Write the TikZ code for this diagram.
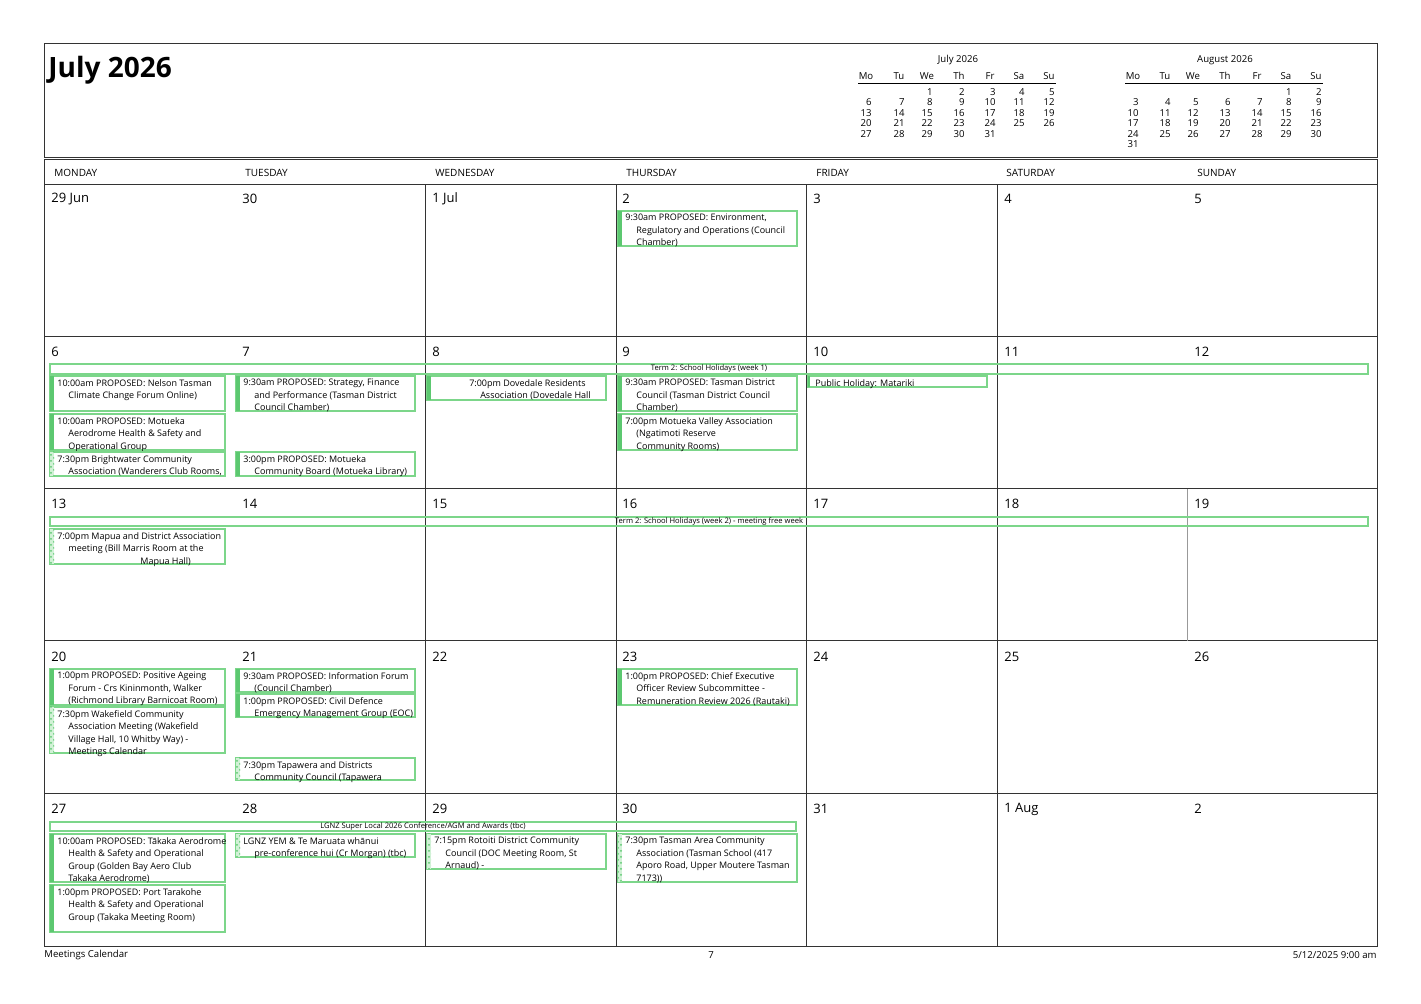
\documentclass[tikz,border=0pt]{standalone}
\usepackage{fontspec}
\setmainfont{Open Sans}
\usetikzlibrary{patterns}
\definecolor{evg}{HTML}{7CD68A}
\definecolor{evbar}{HTML}{5CC870}
\definecolor{gridc}{HTML}{333333}
\newcommand\nl{\\\hspace*{5.5pt}}
\tikzset{
  evbox/.style={draw=evg,line width=0.55pt},
  evtext/.style={font=\fontsize{4.5}{6.2}\selectfont,align=left,inner sep=1pt,anchor=north west},
  grid/.style={draw=gridc,line width=0.5pt},
  dnum/.style={font=\fontsize{6.5}{7}\selectfont,anchor=west,inner sep=0pt},
  dhead/.style={font=\fontsize{5}{6}\selectfont,anchor=west,inner sep=0pt},
  mini/.style={font=\fontsize{4.8}{5}\selectfont,inner sep=0pt},
  ban/.style={font=\fontsize{3.8}{4}\selectfont,inner sep=0pt},
}
\newcommand\ev[6]{%
  \draw[evbox] (#2,#3) rectangle ++(#4,#5);
  \fill[evbar] (#2,#3) rectangle ++(4,#5);
  \node[evtext] (#1) at (#2+5,#3+1) {#6};}
\newcommand\evh[6]{%
  \draw[evbox] (#2,#3) rectangle ++(#4,#5);
  \fill[evg!35] (#2,#3) rectangle ++(4,#5);
  \fill[pattern=crosshatch dots,pattern color=evbar] (#2,#3) rectangle ++(4,#5);
  \node[evtext] (#1) at (#2+5,#3+1) {#6};}
\newcommand\banner[6]{%
  \draw[evbox] (#2,#3) rectangle (#4,#5);
  \node[ban] (#1) at ({(#2+#4)/2},{(#3+#5)/2}) {#6};}
\begin{document}
\begin{tikzpicture}[x=0.5pt,y=-0.5pt]
\useasboundingbox (0,0) rectangle (1421,1004);
\fill[white] (0,0) rectangle (1421,1004);
% header box
\draw[grid] (44,44) rectangle (1377,158);
\node[anchor=west,inner sep=0pt,font=\bfseries\fontsize{14}{16}\selectfont] (title) at (48,70) {July 2026};
% mini calendars
\node[mini] (jt) at (958,60) {July 2026};
\node[mini] (at) at (1225,60) {August 2026};
\draw[line width=0.5pt] (858,84) -- (1056,84);
\draw[line width=0.5pt] (1125,84) -- (1323,84);
\foreach \d/\x in {Mo/866,Tu/899,We/927,Th/959,Fr/990,Sa/1019,Su/1049}
  \node[mini] (jh\d) at (\x,76) {\d};
\foreach \d/\x in {Mo/1133,Tu/1165,We/1193,Th/1225,Fr/1257,Sa/1286,Su/1316}
  \node[mini] (ah\d) at (\x,76) {\d};
\foreach \n in {1,...,31}{
  \pgfmathtruncatemacro\c{mod(\n+1,7)}
  \pgfmathtruncatemacro\r{div(\n+1,7)}
  \pgfmathsetmacro\xx{{866,899,927,959,990,1019,1049}[\c]+6}
  \node[mini,anchor=east] (jd\n) at (\xx,92+10.5*\r) {\n};
}
\foreach \n in {1,...,31}{
  \pgfmathtruncatemacro\c{mod(\n+4,7)}
  \pgfmathtruncatemacro\r{div(\n+4,7)}
  \pgfmathsetmacro\xx{{1133,1165,1193,1225,1257,1286,1316}[\c]+6}
  \node[mini,anchor=east] (ad\n) at (\xx,92+10.5*\r) {\n};
}
% day headers
\draw[grid] (44,160) rectangle (1377,947);
\draw[grid] (44,185) -- (1377,185);
\foreach \d/\x in {MONDAY/54,TUESDAY/245,WEDNESDAY/435,THURSDAY/626,FRIDAY/816,SATURDAY/1006,SUNDAY/1197}
  \node[dhead] (h\d) at (\x,173) {\d};
\foreach \y in {337,489,641,794} \draw[grid] (44,\y) -- (1377,\y);
\foreach \x in {425,616,806,997} \draw[grid] (\x,185) -- (\x,947);
\draw[draw=gridc!50,line width=0.5pt] (1187,489) -- (1187,641);
% day numbers
\foreach \t [count=\i from 0] in {29 Jun,30,1 Jul,2,3,4,5,6,7,8,9,10,11,12,13,14,15,16,17,18,19,20,21,22,23,24,25,26,27,28,29,30,31,1 Aug,2}{
  \pgfmathtruncatemacro\c{mod(\i,7)}
  \pgfmathtruncatemacro\r{div(\i,7)}
  \pgfmathsetmacro\xx{{51,242,432,622,813,1004,1194}[\c]}
  \node[dnum] (d\i) at (\xx,199+152.5*\r) {\t};
}
% week 1
\ev{e1}{618}{211}{179}{35}{9:30am PROPOSED: Environment,\nl Regulatory and Operations (Council\nl Chamber)}
% week 2
\banner{b1}{50}{364}{1368}{374}{Term 2: School Holidays (week 1)}
\ev{e2}{50}{376}{175}{35}{10:00am PROPOSED: Nelson Tasman\nl Climate Change Forum Online)}
\ev{e3}{50}{414}{175}{36}{10:00am PROPOSED: Motueka\nl Aerodrome Health \& Safety and\nl Operational Group}
\evh{e4}{50}{452}{175}{24}{7:30pm Brightwater Community\nl Association  (Wanderers Club Rooms,}
\ev{e5}{236}{376}{179}{35}{9:30am PROPOSED: Strategy, Finance\nl and Performance  (Tasman District\nl Council Chamber)}
\ev{e6}{236}{452}{179}{24}{3:00pm PROPOSED: Motueka\nl Community Board (Motueka Library)}
\draw[evbox] (427,376) rectangle ++(179,24);
\fill[evbar] (427,376) rectangle ++(4,24);
\node[evtext,anchor=north] (e7) at (530,377) {7:00pm Dovedale Residents\\\hspace*{5.5pt}Association (Dovedale Hall};
\ev{e8}{618}{376}{179}{35}{9:30am PROPOSED: Tasman District\nl Council  (Tasman District Council\nl Chamber)}
\ev{e9}{618}{414}{179}{36}{7:00pm Motueka Valley Association\nl (Ngatimoti Reserve\nl Community Rooms)}
\draw[evbox] (808,376) rectangle (987,387);
\fill[evbar] (808,376) rectangle ++(2,11);
\node[evtext] (e10) at (813,377) {Public Holiday: Matariki};
% week 3
\banner{b2}{50}{517}{1368}{526}{Term 2: School Holidays (week 2) - meeting free week}
\evh{e11}{50}{529}{175}{35}{7:00pm Mapua and District Association\nl meeting  (Bill Marris Room at the\nl \hspace*{36pt}Mapua Hall)}
% week 4
\ev{e12}{50}{669}{175}{36}{1:00pm PROPOSED: Positive Ageing\nl Forum - Crs Kininmonth, Walker\nl (Richmond Library Barnicoat Room)}
\evh{e13}{50}{707}{175}{46}{7:30pm Wakefield Community\nl Association Meeting  (Wakefield\nl Village Hall, 10 Whitby Way) -\nl Meetings Calendar}
\ev{e14}{236}{669}{179}{23}{9:30am PROPOSED: Information Forum\nl (Council Chamber)}
\ev{e15}{236}{694}{179}{23}{1:00pm PROPOSED: Civil Defence\nl Emergency Management Group (EOC)}
\evh{e16}{236}{758}{179}{22}{7:30pm Tapawera and Districts\nl Community Council (Tapawera}
\ev{e17}{618}{669}{179}{36}{1:00pm PROPOSED: Chief Executive\nl Officer Review Subcommittee -\nl Remuneration Review 2026  (Rautaki)}
% week 5
\banner{b3}{50}{822}{796}{831}{LGNZ Super Local 2026 Conference/AGM and Awards (tbc)}
\ev{e18}{50}{834}{175}{48}{10:00am PROPOSED: Tākaka Aerodrome\nl Health \& Safety and Operational\nl Group (Golden Bay Aero Club\nl Takaka Aerodrome)}
\ev{e19}{50}{885}{175}{47}{1:00pm PROPOSED: Port Tarakohe\nl Health \& Safety and Operational\nl Group (Takaka Meeting Room)}
\evh{e20}{236}{834}{179}{23}{LGNZ YEM \& Te Maruata whānui\nl pre-conference hui (Cr Morgan) (tbc)}
\evh{e21}{427}{834}{179}{35}{7:15pm Rotoiti District Community\nl Council  (DOC Meeting Room, St\nl Arnaud) -}
\evh{e22}{618}{834}{179}{48}{7:30pm Tasman Area Community\nl Association  (Tasman School (417\nl Aporo Road, Upper Moutere  Tasman\nl 7173))}
% footer
\node[mini,anchor=west] (f1) at (44,955) {Meetings Calendar};
\node[mini] (f2) at (711,955) {7};
\node[mini,anchor=east] (f3) at (1377,955) {5/12/2025 9:00 am};
\end{tikzpicture}
\end{document}
